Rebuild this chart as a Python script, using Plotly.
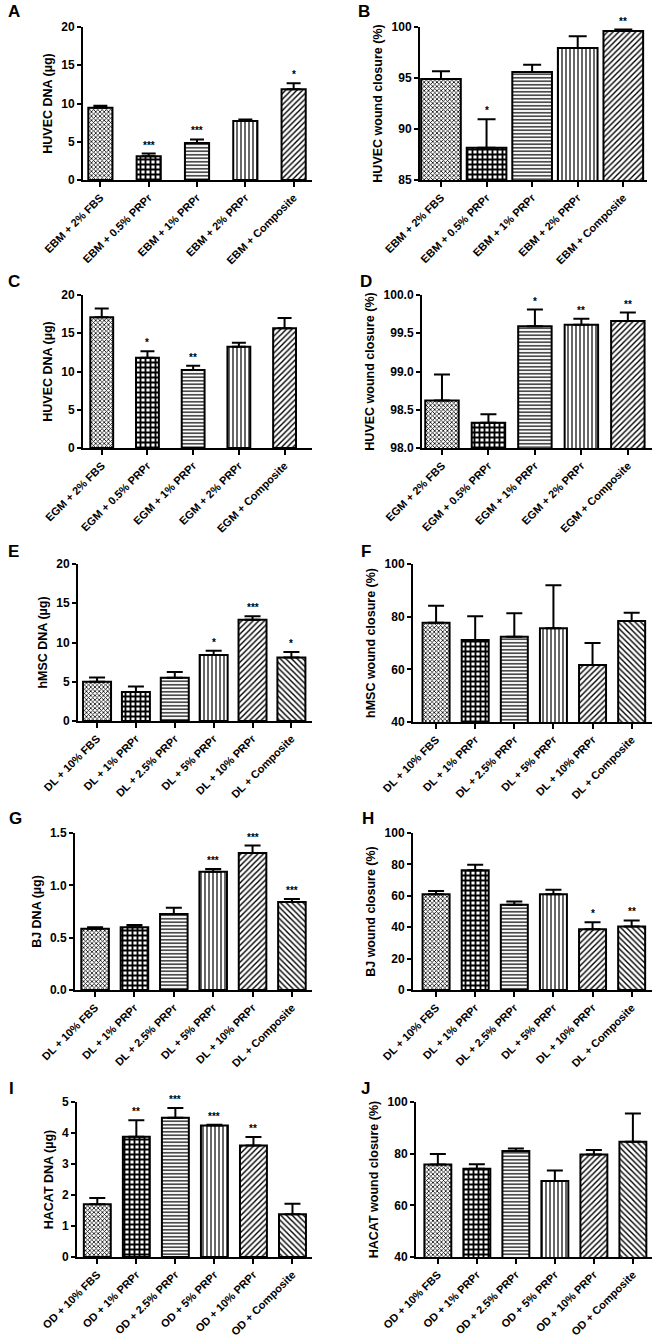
import plotly.graph_objects as go

W, H = 654, 1339

# group labels
ebm_groups = ['EBM + 2% FBS', 'EBM + 0.5% PRPr', 'EBM + 1% PRPr', 'EBM + 2% PRPr', 'EBM + Composite']
egm_groups = ['EGM + 2% FBS', 'EGM + 0.5% PRPr', 'EGM + 1% PRPr', 'EGM + 2% PRPr', 'EGM + Composite']
dl_groups = ['DL + 10% FBS', 'DL + 1% PRPr', 'DL + 2.5% PRPr', 'DL + 5% PRPr', 'DL + 10% PRPr', 'DL + Composite']
od_groups = ['OD + 10% FBS', 'OD + 1% PRPr', 'OD + 2.5% PRPr', 'OD + 5% PRPr', 'OD + 10% PRPr', 'OD + Composite']

# A - HUVEC DNA (EBM)
a_mean = [9.45, 3.1, 4.85, 7.7, 11.85]
a_err = [0.25, 0.35, 0.45, 0.2, 0.8]
a_sig = ['', '***', '***', '', '*']
# B - HUVEC wound closure (EBM)
b_mean = [94.9, 88.15, 95.6, 97.95, 99.6]
b_err = [0.75, 2.8, 0.7, 1.15, 0.15]
b_sig = ['', '*', '', '', '**']
# C - HUVEC DNA (EGM)
c_mean = [17.1, 11.8, 10.2, 13.25, 15.65]
c_err = [1.15, 0.85, 0.55, 0.5, 1.35]
c_sig = ['', '*', '**', '', '']
# D - HUVEC wound closure (EGM)
d_mean = [98.62, 98.33, 99.59, 99.61, 99.66]
d_err = [0.34, 0.11, 0.22, 0.08, 0.11]
d_sig = ['', '', '*', '**', '**']
# E - hMSC DNA
e_mean = [5.0, 3.7, 5.5, 8.4, 12.9, 8.1]
e_err = [0.55, 0.7, 0.75, 0.55, 0.45, 0.7]
e_sig = ['', '', '', '*', '***', '*']
# F - hMSC wound closure
f_mean = [77.7, 71.1, 72.4, 75.6, 61.6, 78.4]
f_err = [6.4, 9.1, 8.9, 16.3, 8.4, 3.1]
f_sig = ['', '', '', '', '', '']
# G - BJ DNA
g_mean = [0.585, 0.6, 0.725, 1.13, 1.31, 0.84]
g_err = [0.015, 0.02, 0.06, 0.025, 0.07, 0.03]
g_sig = ['', '', '', '***', '***', '***']
# H - BJ wound closure
h_mean = [61.0, 76.2, 54.3, 61.0, 38.7, 40.4]
h_err = [2.1, 3.6, 2.1, 2.8, 4.5, 3.9]
h_sig = ['', '', '', '', '*', '**']
# I - HACAT DNA
i_mean = [1.7, 3.88, 4.49, 4.24, 3.6, 1.38]
i_err = [0.2, 0.53, 0.32, 0.03, 0.27, 0.34]
i_sig = ['', '**', '***', '***', '**', '']
# J - HACAT wound closure
j_mean = [75.8, 74.2, 81.0, 69.4, 79.7, 84.6]
j_err = [4.1, 1.7, 1.0, 4.1, 1.7, 10.9]
j_sig = ['', '', '', '', '', '']

# fill patterns (shape, size, solidity)
fbs = ('x', 3, 0.45)
checker = ('+', 5, 0.6)
hlines = ('-', 3.5, 0.35)
vlines = ('|', 4, 0.3)
diag = ('/', 4, 0.35)
antidiag = ('\\', 4, 0.35)
pat5 = [fbs, checker, hlines, vlines, diag]
pat6 = [fbs, checker, hlines, vlines, diag, antidiag]

panels = [
    dict(letter='A', cats=ebm_groups, mean=a_mean, err=a_err, sig=a_sig, title='HUVEC DNA (µg)',
         yr=[0, 20], dt=5, fmt='', box=(83, 312, 27, 180), xr=[-0.36, 4.38], bw=0.5, cap=7, lab=(6, 12)),
    dict(letter='B', cats=ebm_groups, mean=b_mean, err=b_err, sig=b_sig, title='HUVEC wound closure (%)',
         yr=[85, 100], dt=5, fmt='', box=(420, 647, 27, 180), xr=[-0.46, 4.52], bw=0.87, cap=9, lab=(356, 12)),
    dict(letter='C', cats=egm_groups, mean=c_mean, err=c_err, sig=c_sig, title='HUVEC DNA (µg)',
         yr=[0, 20], dt=5, fmt='', box=(83, 312, 295, 448), xr=[-0.41, 4.6], bw=0.5, cap=7, lab=(6, 281)),
    dict(letter='D', cats=egm_groups, mean=d_mean, err=d_err, sig=d_sig, title='HUVEC wound closure (%)',
         yr=[98, 100], dt=0.5, fmt='.1f', box=(422, 652, 295, 448), xr=[-0.43, 4.52], bw=0.72, cap=8, lab=(358, 281)),
    dict(letter='E', cats=dl_groups, mean=e_mean, err=e_err, sig=e_sig, title='hMSC DNA (µg)',
         yr=[0, 20], dt=5, fmt='', box=(78, 312, 564, 721), xr=[-0.49, 5.53], bw=0.72, cap=8, lab=(6, 551)),
    dict(letter='F', cats=dl_groups, mean=f_mean, err=f_err, sig=f_sig, title='hMSC wound closure (%)',
         yr=[40, 100], dt=20, fmt='', box=(413, 652, 564, 722), xr=[-0.59, 5.52], bw=0.69, cap=8, lab=(359, 551)),
    dict(letter='G', cats=dl_groups, mean=g_mean, err=g_err, sig=g_sig, title='BJ DNA (µg)',
         yr=[0, 1.5], dt=0.5, fmt='.1f', box=(75, 312, 833, 990), xr=[-0.51, 5.51], bw=0.7, cap=8, lab=(7, 818)),
    dict(letter='H', cats=dl_groups, mean=h_mean, err=h_err, sig=h_sig, title='BJ wound closure (%)',
         yr=[0, 100], dt=20, fmt='', box=(413, 652, 833, 990), xr=[-0.59, 5.52], bw=0.69, cap=8, lab=(360, 818)),
    dict(letter='I', cats=od_groups, mean=i_mean, err=i_err, sig=i_sig, title='HACAT DNA (µg)',
         yr=[0, 5], dt=1, fmt='', box=(77, 312, 1102, 1257), xr=[-0.52, 5.5], bw=0.69, cap=8, lab=(7, 1088)),
    dict(letter='J', cats=od_groups, mean=j_mean, err=j_err, sig=j_sig, title='HACAT wound closure (%)',
         yr=[40, 100], dt=20, fmt='', box=(416, 652, 1102, 1257), xr=[-0.56, 5.49], bw=0.69, cap=8, lab=(359, 1088)),
]

FONT = 'Liberation Sans, Arial, sans-serif'

fig = go.Figure()
layout = {}
annotations = []

for i, p in enumerate(panels, start=1):
    n = len(p['cats'])
    pats = pat5 if n == 5 else pat6
    xa = 'x' if i == 1 else f'x{i}'
    ya = 'y' if i == 1 else f'y{i}'

    fig.add_trace(go.Bar(
        x=p['cats'], y=p['mean'], width=p['bw'],
        xaxis=xa, yaxis=ya,
        marker=dict(
            color='white',
            line=dict(color='black', width=2),
            pattern=dict(
                shape=[s[0] for s in pats],
                size=[s[1] for s in pats],
                solidity=[s[2] for s in pats],
                fgcolor='black', bgcolor='white', fillmode='replace',
            ),
        ),
        error_y=dict(type='data', symmetric=False, array=p['err'], arrayminus=[0] * n,
                     color='black', thickness=2, width=p['cap']),
        showlegend=False,
        hoverinfo='skip',
    ))

    x0, x1, y0, y1 = p['box']
    layout['xaxis' if i == 1 else f'xaxis{i}'] = dict(
        domain=[x0 / W, x1 / W], anchor=ya, range=p['xr'], type='category',
        showline=True, linecolor='black', linewidth=2, showgrid=False, zeroline=False,
        ticks='outside', ticklen=5, tickwidth=2, tickcolor='black', tickangle=-45,
        tickfont=dict(family=FONT, size=11, color='black', weight='bold'),
        automargin=False, fixedrange=True,
    )
    layout['yaxis' if i == 1 else f'yaxis{i}'] = dict(
        domain=[1 - y1 / H, 1 - y0 / H], anchor=xa, range=p['yr'], dtick=p['dt'],
        tick0=p['yr'][0], tickformat=p['fmt'],
        showline=True, linecolor='black', linewidth=2, showgrid=False, zeroline=False,
        ticks='outside', ticklen=4, tickwidth=2, tickcolor='black',
        tickfont=dict(family=FONT, size=12, color='black', weight='bold'),
        title=dict(text=p['title'], font=dict(family=FONT, size=12.5, color='black', weight='bold'),
                   standoff=6),
        automargin=False, fixedrange=True,
    )

    # significance stars above the error bars
    for cat, m, e, s in zip(p['cats'], p['mean'], p['err'], p['sig']):
        if s:
            annotations.append(dict(
                x=cat, y=m + e, xref=xa, yref=ya, text=s, showarrow=False,
                yanchor='bottom', yshift=1,
                font=dict(family=FONT, size=10, color='black', weight='bold'),
            ))

    # panel letter
    lx, ly = p['lab']
    annotations.append(dict(
        x=lx / W, y=1 - ly / H, xref='paper', yref='paper', text=p['letter'],
        showarrow=False, xanchor='left', yanchor='middle',
        font=dict(family=FONT, size=17, color='black', weight='bold'),
    ))

fig.update_layout(
    **layout,
    annotations=annotations,
    width=W, height=H,
    margin=dict(l=0, r=0, t=0, b=0),
    paper_bgcolor='white', plot_bgcolor='white',
    bargap=0.3,
)

# the page body has a default 8px margin; drop it so the figure fills the window
fig.write_html('out.html', config={'displayModeBar': False},
               post_script="document.body.style.margin='0';")
